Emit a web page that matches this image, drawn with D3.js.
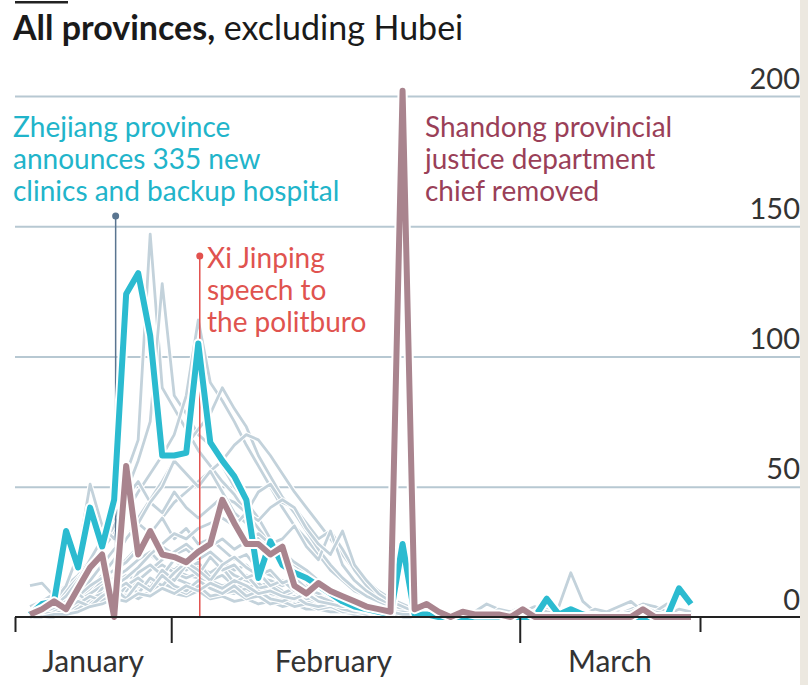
<!DOCTYPE html>
<html>
<head>
<meta charset="utf-8">
<script src="https://d3js.org/d3.v7.min.js"></script>
<style>
  body { margin: 0; background: #ece8e0; }
  svg { display: block; font-family: Lato, "Open Sans", sans-serif; }
</style>
</head>
<body>
<svg id="chart" width="808" height="685"></svg>
<script>
// daily new cases, 20 Jan .. 15 Mar 2020
const firstDay = new Date(2020, 0, 20);
const lastDay = new Date(2020, 2, 15);
const days = d3.timeDay.range(firstDay, d3.timeDay.offset(lastDay, 1));

const zhejiang = [
  1, 5, 6, 33, 19, 42, 27,
  45, 124, 132, 108, 62, 62, 63,
  105, 67, 60, 54, 45, 15, 29,
  20, 17, 15, 12, 9, 6, 4,
  3, 2, 1, 28, 1, 1, 0,
  0, 0, 0, 0, 0, 0, 0,
  0, 7, 1, 3, 1, 0, 0,
  0, 0, 0, 0, 0, 11, 5
];

const shandong = [
  1, 3, 6, 3, 11, 19, 24,
  0, 58, 24, 33, 24, 23, 21,
  25, 28, 45, 36, 28, 28, 24,
  27, 12, 9, 13, 10, 8, 6,
  4, 3, 2, 202, 3, 5, 2,
  0, 2, 1, 1, 1, 0, 3,
  0, 0, 0, 0, 0, 0, 0,
  0, 0, 3, 0, 0, 0, 0
];

// the other provinces, grey
const otherProvinces = [
  [4,6,9,12,16,22,30, 42,55,68,147,88,80,72, 64,58,52,47,40,34,28, 24,20,16,13,10,8,6, 5,4,3,2,2,1,1, 1,0,0,0,0,0,0, 0,0,0,0,0,0,0, 0,0,0,0,0,0,0],
  [2,3,5,8,12,18,26, 35,48,60,75,128,85,78, 70,66,58,50,44,38,30, 25,21,18,14,11,9,7, 5,4,3,2,2,1,1, 0,1,0,0,0,0,0, 0,0,0,0,0,0,0, 0,0,0,0,0,0,0],
  [1,3,6,10,15,20,26, 32,40,48,55,62,70,85, 114,90,83,75,66,58,50, 42,35,30,24,18,14,10, 8,6,4,3,2,1,1, 0,0,0,0,0,0,0, 0,0,0,0,0,0,0, 0,0,0,0,0,0,0],
  [0,1,3,5,9,14,20, 26,30,38,45,52,60,66, 72,78,88,80,73,62,54, 46,40,33,26,20,15,11, 8,6,4,3,2,1,1, 1,0,0,0,0,0,0, 0,0,0,0,0,0,0, 0,0,0,0,0,0,0],
  [0,0,1,3,6,10,14, 18,22,27,32,38,44,48, 52,56,60,66,70,68,62, 55,48,42,36,30,24,18, 14,10,7,5,3,2,1, 1,0,0,0,0,0,0, 0,0,0,0,0,0,0, 0,0,0,0,0,0,0],
  [0,2,4,8,14,22,30, 38,46,52,44,40,48,42, 38,42,46,44,40,48,51, 44,42,36,30,33,26,18, 12,8,5,3,2,1,1, 0,0,0,0,0,0,0, 0,0,0,0,0,0,0, 0,0,0,0,0,0,0],
  [12,13,8,3,5,8,10, 14,18,22,24,20,18,16, 15,14,12,13,10,9,8, 7,6,5,4,3,3,2, 2,1,1,1,0,0,0, 0,0,0,0,0,0,0, 0,0,0,0,0,0,0, 0,0,0,0,0,0,0],
  [0,2,6,12,24,51,35, 30,42,36,32,38,30,34, 28,30,26,22,24,18,16, 14,12,10,8,6,5,4, 3,2,2,1,1,0,0, 0,0,0,0,0,0,0, 0,0,0,0,0,0,0, 0,0,0,0,0,0,0],
  [0,1,2,4,7,11,16, 22,30,36,44,50,60,55, 50,56,48,40,36,30,26, 22,18,15,12,9,7,5, 4,3,2,1,1,0,0, 0,0,0,0,0,0,0, 0,0,0,0,0,0,0, 0,0,0,0,0,0,0],
  [0,0,2,4,6,9,12, 15,18,22,25,20,18,22, 19,17,20,16,14,12,13, 10,8,9,6,5,4,3, 2,2,1,1,0,1,0, 0,1,2,1,0,1,3, 2,1,4,17,6,2,1, 2,0,1,0,0,1,0],
  [0,1,3,5,8,12,15, 18,21,26,30,27,24,26, 22,25,21,18,20,15,14, 12,14,10,8,7,5,4, 3,2,2,1,1,0,1, 1,0,2,5,3,2,4, 1,3,1,2,1,0,2, 1,3,5,4,2,3,1],
  [0,0,1,3,5,7,10, 13,16,14,18,20,17,15, 17,14,16,12,11,13,9, 8,10,7,6,5,4,3, 3,2,2,1,1,0,0, 0,0,1,0,3,2,1, 0,2,1,0,1,3,2, 4,6,2,1,0,1,0],
  [0,1,2,2,4,6,8, 10,12,11,14,12,15,13, 11,12,10,9,11,8,7, 6,5,6,4,3,3,2, 2,1,1,0,1,0,0, 0,2,0,1,0,0,2, 4,2,1,0,2,1,0, 0,1,0,2,5,1,0],
  [0,0,0,1,2,4,6, 8,11,14,18,22,25,28, 24,27,30,26,29,32,28, 30,35,27,22,33,20,14, 10,7,5,3,2,1,1, 0,0,0,0,0,0,0, 0,0,0,0,0,0,0, 0,0,0,0,0,0,0],
  [0,0,1,2,3,5,6, 8,9,7,10,11,9,8, 10,7,8,6,7,5,6, 4,5,3,3,2,2,1, 1,1,0,1,0,0,0, 0,0,0,0,0,0,0, 0,0,0,0,0,0,0, 0,0,0,0,0,0,0],
  [0,0,0,1,3,4,7, 9,8,12,10,13,11,9, 12,8,9,10,7,8,5, 6,4,5,3,4,2,2, 1,2,1,0,1,0,0, 1,0,0,2,0,1,0, 0,1,0,3,2,1,0, 1,2,4,2,1,3,2],
  [0,0,1,2,4,6,9, 12,15,19,24,28,32,30, 34,36,38,35,40,37,42, 45,42,34,28,24,33,20, 14,9,6,4,2,1,1, 0,0,0,0,0,0,0, 0,0,0,0,0,0,0, 0,0,0,0,0,0,0],
  [0,1,3,6,9,5,11, 14,10,17,20,16,22,18, 21,15,19,13,16,11,12, 9,11,7,8,5,4,3, 2,3,1,1,0,0,0, 0,0,0,1,0,0,0, 0,0,0,0,0,0,0, 0,0,0,0,0,0,0],
  [1,0,2,4,3,7,9, 6,12,15,11,18,14,20, 16,23,18,20,15,17,12, 14,10,12,8,6,7,4, 3,2,2,1,1,1,0, 0,0,0,0,0,0,0, 0,0,0,0,0,0,0, 0,0,0,0,0,0,0],
  [0,0,0,2,5,8,6, 10,13,9,15,12,17,21, 18,14,20,23,19,16,18, 13,15,11,9,10,6,5, 4,3,2,2,1,0,0, 0,0,0,0,0,0,0, 0,0,0,0,0,0,0, 0,0,0,0,0,0,0],
  [0,2,1,3,6,4,8, 11,7,13,10,16,12,10, 14,11,9,12,8,10,7, 6,8,5,4,5,3,2, 2,1,1,0,0,0,0, 0,0,1,0,0,0,0, 0,0,0,0,0,0,0, 0,0,0,0,0,0,0],
  [0,0,1,1,2,4,5, 7,6,9,8,11,9,12, 10,13,11,14,12,9,10, 8,7,9,6,5,4,4, 3,2,2,1,1,0,0, 0,0,0,0,0,0,0, 0,0,0,0,0,0,0, 0,0,0,0,0,0,0]
];

const yTicks = [0, 50, 100, 150, 200];
const monthBounds = [new Date(2020, 0, 19), new Date(2020, 1, 1), new Date(2020, 2, 1), new Date(2020, 2, 16)];
const monthNames = ["January", "February", "March"];
const monthLabelDays = [new Date(2020, 0, 25, 12), new Date(2020, 1, 14, 12), new Date(2020, 2, 8, 12)];

const zhejiangDay = new Date(2020, 0, 27, 9);
const xiDay = new Date(2020, 1, 3, 9);

const zhejiangNote = ["Zhejiang province", "announces 335 new", "clinics and backup hospital"];
const xiNote = ["Xi Jinping", "speech to", "the politburo"];
const shandongNote = ["Shandong provincial", "justice department", "chief removed"];

const teal = "#2bbbd0", mauve = "#a9848e", grey = "#c3d2db", gridCol = "#b7c8d2";

const svg = d3.select("#chart");
svg.append("rect").attr("width", 800).attr("height", 685).attr("fill", "#fff");

const x = d3.scaleTime().domain([monthBounds[0], monthBounds[3]]).range([15, 700]);
const y = d3.scaleLinear().domain([0, 200]).range([617, 96]);
const px = (d, i) => x(d3.timeHour.offset(days[i], 6));

// title
svg.append("rect").attr("x", 15).attr("y", 1).attr("width", 53).attr("height", 2.5).attr("fill", "#222");
const title = svg.append("text").attr("x", 13).attr("y", 40)
  .attr("font-size", 34).attr("fill", "#1a1a1a");
title.append("tspan").attr("font-weight", 700).text("All provinces,");
title.append("tspan").text(" excluding Hubei");

// gridlines + labels on the right
const yAxis = svg.append("g")
  .attr("transform", "translate(800,0)")
  .call(d3.axisLeft(y).tickValues(yTicks).tickSize(785));
yAxis.select(".domain").remove();
yAxis.selectAll(".tick line").attr("stroke", gridCol).attr("stroke-width", 2)
  .attr("display", d => d === 0 ? "none" : null);
yAxis.selectAll(".tick text")
  .attr("x", 0).attr("dy", -8).attr("text-anchor", "end")
  .attr("font-family", "Lato, sans-serif").attr("font-size", 29).attr("fill", "#333");

const line = d3.line().x(px).y(d => y(d));

// grey provinces
otherProvinces.forEach(s => {
  svg.append("path").datum(s).attr("d", line).attr("fill", "none")
    .attr("stroke", "#fff").attr("stroke-width", 5).attr("stroke-linejoin", "round");
  svg.append("path").datum(s).attr("d", line).attr("fill", "none")
    .attr("stroke", grey).attr("stroke-width", 2.8).attr("stroke-linejoin", "round");
});

// marker lines
svg.append("line").attr("x1", x(zhejiangDay)).attr("x2", x(zhejiangDay))
  .attr("y1", 216).attr("y2", y(0)).attr("stroke", "#5a7590").attr("stroke-width", 1.5);
svg.append("circle").attr("cx", x(zhejiangDay)).attr("cy", 216).attr("r", 3.5).attr("fill", "#5a7590");
svg.append("line").attr("x1", x(xiDay)).attr("x2", x(xiDay))
  .attr("y1", 256).attr("y2", y(0)).attr("stroke", "#e2514e").attr("stroke-width", 1.5);
svg.append("circle").attr("cx", x(xiDay)).attr("cy", 256).attr("r", 3.5).attr("fill", "#e2514e");

// highlighted provinces
[[zhejiang, teal], [shandong, mauve]].forEach(([s, c]) => {
  svg.append("path").datum(s).attr("d", line).attr("fill", "none")
    .attr("stroke", "#fff").attr("stroke-width", 10).attr("stroke-linejoin", "round");
  svg.append("path").datum(s).attr("d", line).attr("fill", "none")
    .attr("stroke", c).attr("stroke-width", 6).attr("stroke-linejoin", "round");
});

// x axis
svg.append("line").attr("x1", 15).attr("x2", 800).attr("y1", y(0)).attr("y2", y(0))
  .attr("stroke", "#222").attr("stroke-width", 2);
const xAxis = svg.append("g").attr("transform", "translate(0," + y(0) + ")")
  .call(d3.axisBottom(x).tickValues(monthBounds).tickSize(26).tickSizeOuter(0).tickFormat(""));
xAxis.select(".domain").remove();
xAxis.selectAll(".tick line").attr("stroke", "#222").attr("stroke-width", 2)
  .attr("y2", (d, i) => (i === 0 || i === 3) ? 15 : 26);
svg.selectAll(".month").data(monthNames).enter().append("text")
  .attr("class", "month")
  .attr("x", (d, i) => x(monthLabelDays[i])).attr("y", 672)
  .attr("text-anchor", "middle").attr("font-size", 30).attr("fill", "#333")
  .text(d => d);

// annotations
function note(lines, x0, y0, col) {
  svg.append("g").selectAll("text").data(lines).enter().append("text")
    .attr("x", x0).attr("y", (d, i) => y0 + i * 32)
    .attr("font-size", 28).attr("fill", col)
    .text(d => d);
}
note(zhejiangNote, 13, 137, "#21b4ca");
note(xiNote, 207, 268, "#e0534f");
note(shandongNote, 425, 137, "#9a3f58");
</script>
</body>
</html>
